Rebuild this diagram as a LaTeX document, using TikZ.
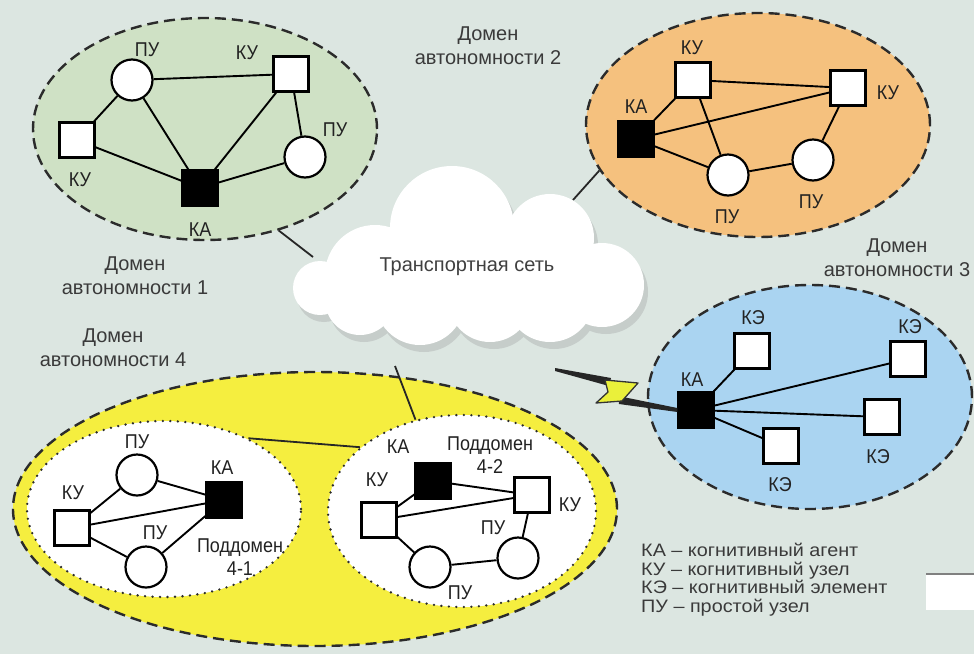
\documentclass[tikz,border=0pt]{standalone}
\usepackage{fontspec}
\setmainfont{Liberation Sans}
\newfontfamily\narrowf[FakeStretch=0.9]{Liberation Sans}
\newfontfamily\widef[FakeStretch=1.1]{Liberation Sans}
\usetikzlibrary{shapes.geometric}

\definecolor{bgc}{HTML}{DCE6E1}
\definecolor{greenfill}{HTML}{CFE1C5}
\definecolor{orangefill}{HTML}{F5C17E}
\definecolor{bluefill}{HTML}{AAD4F1}
\definecolor{yellowfill}{HTML}{F5EE3F}
\definecolor{dashc}{HTML}{2B2B2B}
\definecolor{cloudsh}{HTML}{C6CDCA}
\definecolor{labc}{HTML}{222222}
\definecolor{dlabc}{HTML}{3A3A3A}
\definecolor{boltc}{HTML}{EAF03A}

\begin{document}
\begin{tikzpicture}[x=1pt,y=-1pt,
  dom/.style={ellipse, draw=dashc, line width=2.4pt, dash pattern=on 11pt off 6pt, inner sep=0pt},
  subdom/.style={ellipse, draw=dashc, fill=white, line width=2.6pt, dash pattern=on 0pt off 7.5pt, line cap=round, inner sep=0pt},
  ku/.style={rectangle, draw=black, fill=white, line width=2.2pt, minimum size=35pt, inner sep=0pt},
  ka/.style={ku, fill=black},
  pu/.style={circle, draw=black, fill=white, line width=2.2pt, minimum size=41pt, inner sep=0pt},
  lnk/.style={draw=black, line width=1.9pt},
  tie/.style={draw=black!85, line width=1.8pt},
  tag/.style={font=\narrowf\fontsize{20}{23}\selectfont, text=labc, inner sep=0pt, align=center},
  dlab/.style={font=\fontsize{20}{24}\selectfont, text=dlabc, inner sep=0pt, align=center},
  leg/.style={font=\widef\fontsize{18}{18.5}\selectfont, text=dlabc, inner sep=0pt, anchor=base west}
]
\useasboundingbox (0,0) rectangle (974,654);
\fill[bgc] (0,0) rectangle (974,654);

% ---------- domain ellipses ----------
\node[dom, fill=greenfill, minimum width=344, minimum height=222] (d1) at (205,129) {};
\node[dom, fill=orangefill, minimum width=344, minimum height=224] (d2) at (758,125) {};
\node[dom, fill=bluefill, minimum width=324, minimum height=224] (d3) at (810,397) {};
\node[dom, fill=yellowfill, minimum width=604, minimum height=274] (d4) at (315,509) {};
\node[subdom, minimum width=274, minimum height=176] (s41) at (164,509) {};
\node[subdom, minimum width=268, minimum height=192] (s42) at (462,511) {};

% ---------- links to the transport network ----------
\coordinate (c1) at (313,257);
\coordinate (c2) at (573,200);
\coordinate (c4) at (395,366);
\draw[tie] (d1.-54) -- (c1);
\draw[tie] (d2.-164) -- (c2);
\draw[tie] (c4) -- (s42.117);
\draw[tie] (s41.40) -- (s42.148);

% ---------- cloud: soft shadow first, then the white puffs ----------
\foreach \cx/\cy/\r in {320/288/27, 375/275/50, 452/228/62, 550/238/44, 602/285/42,
                        360/300/35, 420/300/45, 490/300/42, 550/298/44}
  \fill[cloudsh] (\cx+4,\cy+7) circle[radius=\r];
\fill[cloudsh] (349,257) rectangle (594,327);
\foreach \cx/\cy/\r in {320/288/27, 375/275/50, 452/228/62, 550/238/44, 602/285/42,
                        360/300/35, 420/300/45, 490/300/42, 550/298/44}
  \fill[white] (\cx,\cy) circle[radius=\r];
\fill[white] (345,250) rectangle (590,320);
\node[font=\fontsize{20}{24}\selectfont, text=black!75, inner sep=0pt] (net) at (467,267) {Транспортная сеть};

% ---------- domain 1 ----------
\node[pu] (a1) at (132,80) {};
\node[ku] (a2) at (291,74) {};
\node[ku] (a3) at (77,140) {};
\node[pu] (a4) at (305,157) {};
\node[ka] (a5) at (200,188) {};
\draw[lnk] (a1) -- (a2) (a1) -- (a3) (a1) -- (a5) (a3) -- (a5)
           (a2) -- (a5) (a2) -- (a4) (a4) -- (a5);
\node[tag] (ta1) at (147,50) {ПУ};
\node[tag] (ta2) at (247,53) {КУ};
\node[tag] (ta3) at (80,180) {КУ};
\node[tag] (ta4) at (335,130) {ПУ};
\node[tag] (ta5) at (200,230) {КА};

% ---------- domain 2 ----------
\node[ku] (b1) at (693,80) {};
\node[ku] (b2) at (848,88) {};
\node[ka] (b3) at (636,139) {};
\node[pu] (b4) at (728,175) {};
\node[pu] (b5) at (813,160) {};
\draw[lnk] (b1) -- (b2) (b3) -- (b1) (b3) -- (b2) (b1) -- (b4)
           (b3) -- (b4) (b4) -- (b5) (b5) -- (b2);
\node[tag] (tb1) at (692,48) {КУ};
\node[tag] (tb2) at (888,93) {КУ};
\node[tag] (tb3) at (636,107) {КА};
\node[tag] (tb4) at (727,217) {ПУ};
\node[tag] (tb5) at (811,202) {ПУ};

% ---------- domain 3 ----------
\node[ka] (k3a) at (696,410) {};
\node[ku] (e1) at (752,351) {};
\node[ku] (e2) at (908,359) {};
\node[ku] (e3) at (882,417) {};
\node[ku] (e4) at (781,446) {};
\draw[lnk] (k3a) -- (e1) (k3a) -- (e2) (k3a) -- (e3) (k3a) -- (e4);
\node[tag] (tk3) at (692,380) {КА};
\node[tag] (te1) at (753,318) {КЭ};
\node[tag] (te2) at (910,327) {КЭ};
\node[tag] (te3) at (878,457) {КЭ};
\node[tag] (te4) at (780,485) {КЭ};

% radio link with a lightning bolt
\coordinate (zs) at (555,368);
\fill[black!85] (zs) -- (611,378) -- (609,386) -- (555,371) -- cycle;
\fill[black!85] (618,396) -- ([yshift=2pt]k3a.west) -- ([yshift=-2pt]k3a.west) -- (619,404) -- cycle;
\draw[black!80, line width=1.3pt, fill=boltc, line join=round]
  (605,380) -- (638,383) -- (622,401) -- (596,403) -- (608,392) -- cycle;

% ---------- domain 4, subdomain 4-1 ----------
\node[ku] (f1) at (72,528) {};
\node[pu] (f2) at (137,475) {};
\node[pu] (f3) at (146,567) {};
\node[ka] (f4) at (224,500) {};
\draw[lnk] (f1) -- (f2) (f2) -- (f4) (f1) -- (f4) (f1) -- (f3) (f3) -- (f4);
\node[tag] (tf1) at (73,493) {КУ};
\node[tag] (tf2) at (137,442) {ПУ};
\node[tag] (tf3) at (155,533) {ПУ};
\node[tag] (tf4) at (222,468) {КА};
\node[tag] (tf5) at (240,557) {Поддомен\\4-1};

% ---------- domain 4, subdomain 4-2 ----------
\node[ka] (g1) at (433,481) {};
\node[ku] (g2) at (379,520) {};
\node[ku] (g3) at (532,495) {};
\node[pu] (g4) at (430,567) {};
\node[pu] (g5) at (518,558) {};
\draw[lnk] (g2) -- (g1) (g1) -- (g3) (g2) -- (g3) (g2) -- (g4) (g4) -- (g5) (g5) -- (g3);
\node[tag] (tg1) at (398,447) {КА};
\node[tag] (tg2) at (377,480) {КУ};
\node[tag] (tg3) at (570,505) {КУ};
\node[tag] (tg4) at (493,528) {ПУ};
\node[tag] (tg5) at (460,593) {ПУ};
\node[tag] (tg6) at (490,455) {Поддомен\\4-2};

% ---------- domain captions ----------
\node[dlab] (cap1) at (135,276) {Домен\\автономности 1};
\node[dlab] (cap2) at (488,46) {Домен\\автономности 2};
\node[dlab] (cap3) at (897,258) {Домен\\автономности 3};
\node[dlab] (cap4) at (113,348) {Домен\\автономности 4};

% ---------- legend ----------
\node[leg] (lg1) at (641,556) {КА – когнитивный агент};
\node[leg] (lg2) at (641,575) {КУ – когнитивный узел};
\node[leg] (lg3) at (641,593) {КЭ – когнитивный элемент};
\node[leg] (lg4) at (641,612) {ПУ – простой узел};

% white panel at the lower right edge
\node[fill=white, minimum width=48, minimum height=36, inner sep=0pt, anchor=north west] (panel) at (926,574) {};
\draw[gray, line width=1.5pt] (panel.north west) -- (panel.north east);
\end{tikzpicture}
\end{document}
